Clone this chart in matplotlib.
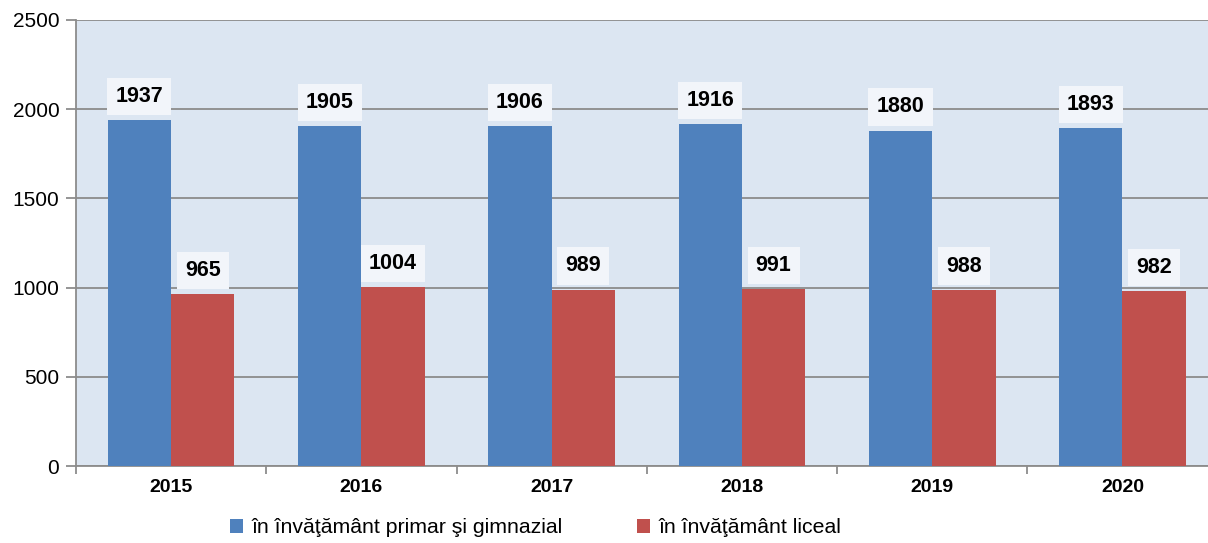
import matplotlib
matplotlib.use('Agg')
import matplotlib.pyplot as plt
import numpy as np

years = ['2015', '2016', '2017', '2018', '2019', '2020']
primar_gimnazial = [1937, 1905, 1906, 1916, 1880, 1893]
liceal = [965, 1004, 989, 991, 988, 982]
series_names = ['în învăţământ primar şi gimnazial', 'în învăţământ liceal']

plt.rcParams['font.family'] = ['Liberation Sans', 'DejaVu Sans']

fig = plt.figure(figsize=(12.08, 5.43), dpi=100)
ax = fig.add_axes([0.0629, 0.1418, 0.945, 0.8214])
ax.set_facecolor('#dce6f2')

x = np.arange(len(years))
w = 0.333
b1 = ax.bar(x - w / 2, primar_gimnazial, w, color='#4f81bd', label=series_names[0], zorder=3)
b2 = ax.bar(x + w / 2, liceal, w, color='#c0504d', label=series_names[1], zorder=3)

for bars, vals in [(b1, primar_gimnazial), (b2, liceal)]:
    for rect, v in zip(bars, vals):
        ax.annotate(str(v), (rect.get_x() + rect.get_width() / 2, v),
                    xytext=(0, 17), textcoords='offset points',
                    ha='center', va='center', fontsize=15.5, fontweight='bold',
                    bbox=dict(boxstyle='square,pad=0.38', facecolor='#f2f5fa', edgecolor='none'),
                    zorder=5)

ax.set_ylim(0, 2500)
ax.set_yticks(range(0, 2501, 500))
ax.set_xlim(-0.5, len(years) - 0.5)
ax.grid(axis='y', color='#8c8c8c', linewidth=1.3, zorder=1)

ax.set_xticks(np.arange(-0.5, len(years), 1.0))
ax.set_xticklabels([])
ax.set_xticks(x, minor=True)
ax.set_xticklabels(years, minor=True, fontsize=14, fontweight='bold')
ax.tick_params(axis='x', which='minor', length=0, pad=9)
ax.tick_params(axis='x', which='major', length=6, color='#8c8c8c', width=1.3)
ax.tick_params(axis='y', length=7, color='#8c8c8c', width=1.3, labelsize=15, pad=5)

for s in ['top', 'right']:
    ax.spines[s].set_visible(False)
for s in ['left', 'bottom']:
    ax.spines[s].set_color('#8c8c8c')
    ax.spines[s].set_linewidth(1.3)

fig.legend(loc='center', bbox_to_anchor=(0.4433, 0.028), ncol=2, frameon=False,
           fontsize=15.3, handlelength=0.6, handleheight=0.6, handletextpad=0.4,
           columnspacing=3.5)

fig.savefig('out.png', dpi=100)
